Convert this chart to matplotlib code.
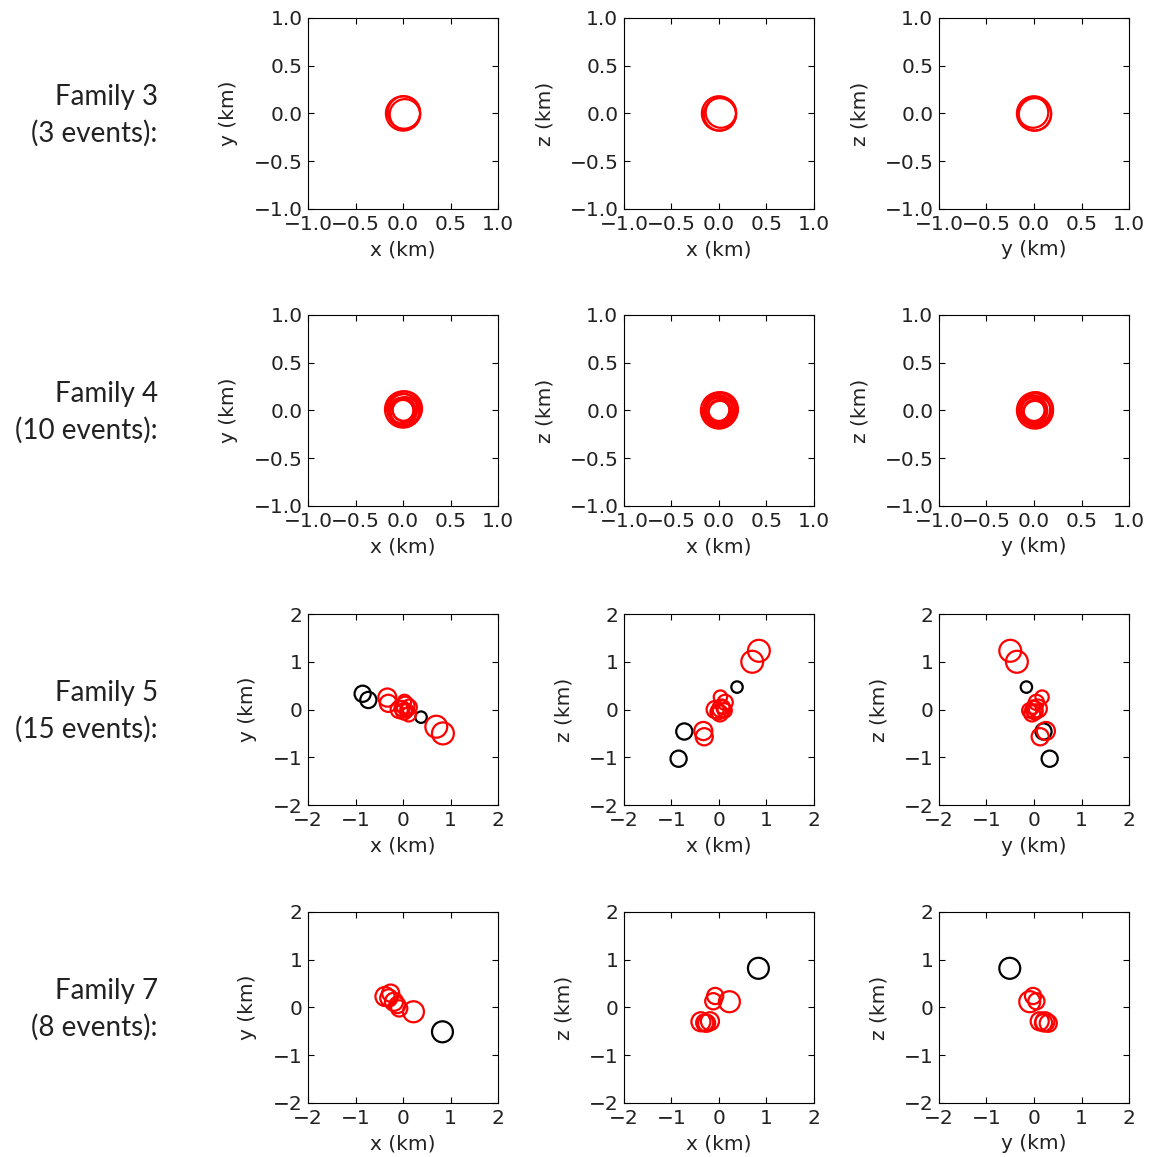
import matplotlib
matplotlib.use('Agg')
import matplotlib.pyplot as plt
from matplotlib.patches import Circle

# event locations relative to family centroid (km), source radius (km), colour flag
fam3_x = [0.00, 0.02, 0.01]
fam3_y = [0.00, -0.01, 0.01]
fam3_z = [0.00, 0.01, -0.01]
fam3_r = [0.18, 0.16, 0.17]
fam3_out = [0, 0, 0]

fam4_x = [0.00, 0.01, -0.01, 0.02, 0.00, -0.02, 0.01, 0.00, 0.02, -0.01]
fam4_y = [0.01, 0.00, 0.02, -0.01, -0.02, 0.00, 0.01, 0.00, 0.02, -0.01]
fam4_z = [0.00, 0.01, -0.01, 0.00, 0.02, 0.01, -0.02, 0.00, 0.01, 0.00]
fam4_r = [0.19, 0.17, 0.16, 0.15, 0.14, 0.13, 0.12, 0.11, 0.18, 0.13]
fam4_out = [0] * 10

fam5_x = [-0.85, -0.73, 0.38, 0.84, 0.70, -0.33, -0.31, 0.03, 0.13, -0.08, 0.02, 0.12, 0.05, -0.02, 0.08]
fam5_y = [0.33, 0.20, -0.16, -0.50, -0.36, 0.25, 0.13, 0.17, 0.05, 0.00, -0.04, -0.10, 0.08, 0.02, -0.02]
fam5_z = [-1.03, -0.46, 0.47, 1.23, 1.00, -0.45, -0.57, 0.26, 0.15, 0.00, -0.08, -0.02, 0.02, -0.05, 0.05]
fam5_r = [0.17, 0.17, 0.12, 0.23, 0.23, 0.19, 0.18, 0.14, 0.16, 0.18, 0.17, 0.15, 0.19, 0.16, 0.14]
fam5_out = [1, 1, 1, 0, 0, 0, 0, 0, 0, 0, 0, 0, 0, 0, 0]

fam7_x = [0.83, 0.22, -0.08, -0.12, -0.38, -0.26, -0.19, -0.30]
fam7_y = [-0.51, -0.09, -0.02, 0.05, 0.23, 0.30, 0.12, 0.20]
fam7_z = [0.82, 0.12, 0.24, 0.13, -0.30, -0.33, -0.29, -0.32]
fam7_r = [0.22, 0.22, 0.17, 0.17, 0.20, 0.18, 0.19, 0.18]
fam7_out = [1, 0, 0, 0, 0, 0, 0, 0]

families = [
    ('Family 3\n(3 events):', fam3_x, fam3_y, fam3_z, fam3_r, fam3_out, 1.0),
    ('Family 4\n(10 events):', fam4_x, fam4_y, fam4_z, fam4_r, fam4_out, 1.0),
    ('Family 5\n(15 events):', fam5_x, fam5_y, fam5_z, fam5_r, fam5_out, 2.0),
    ('Family 7\n(8 events):', fam7_x, fam7_y, fam7_z, fam7_r, fam7_out, 2.0),
]

plt.rcParams['font.family'] = 'DejaVu Sans'
plt.rcParams['font.size'] = 14.5
plt.rcParams['text.color'] = '#222222'
plt.rcParams['xtick.labelcolor'] = '#222222'
plt.rcParams['ytick.labelcolor'] = '#222222'
plt.rcParams['axes.labelcolor'] = '#222222'
plt.rcParams['xtick.direction'] = 'in'
plt.rcParams['ytick.direction'] = 'in'
plt.rcParams['xtick.top'] = True
plt.rcParams['ytick.right'] = True
plt.rcParams['xtick.major.size'] = 4
plt.rcParams['ytick.major.size'] = 4
plt.rcParams['xtick.major.pad'] = 4
plt.rcParams['ytick.major.pad'] = 4

fig = plt.figure(figsize=(11.51, 11.57), dpi=100)

lefts = [0.2676, 0.5421, 0.8158]
bottoms = [0.8194, 0.5627, 0.3042, 0.0467]
w, h = 0.1651, 0.1651

for i, (label, xs, ys, zs, rs, out, lim) in enumerate(families):
    views = [(xs, ys, 'x (km)', 'y (km)'), (xs, zs, 'x (km)', 'z (km)'), (ys, zs, 'y (km)', 'z (km)')]
    for j, (a, b, xl, yl) in enumerate(views):
        ax = fig.add_axes([lefts[j], bottoms[i], w, h])
        for k in range(len(a)):
            c = 'k' if out[k] else 'r'
            ax.add_patch(Circle((a[k], b[k]), rs[k], fill=False, ec=c, lw=1.6))
        ax.set_xlim(-lim, lim)
        ax.set_ylim(-lim, lim)
        if lim == 1.0:
            ticks = [-1.0, -0.5, 0.0, 0.5, 1.0]
        else:
            ticks = [-2, -1, 0, 1, 2]
        ax.set_xticks(ticks)
        ax.set_yticks(ticks)
        ax.set_xlabel(xl, labelpad=5)
        ax.set_ylabel(yl, labelpad=11)
    # family name on the left
    fig.text(0.137, bottoms[i] + h / 2 - 0.002, label, ha='right', va='center',
             fontsize=20, family=['Lato', 'DejaVu Sans'], linespacing=1.45)

fig.savefig('out.png', dpi=100, facecolor='white')
